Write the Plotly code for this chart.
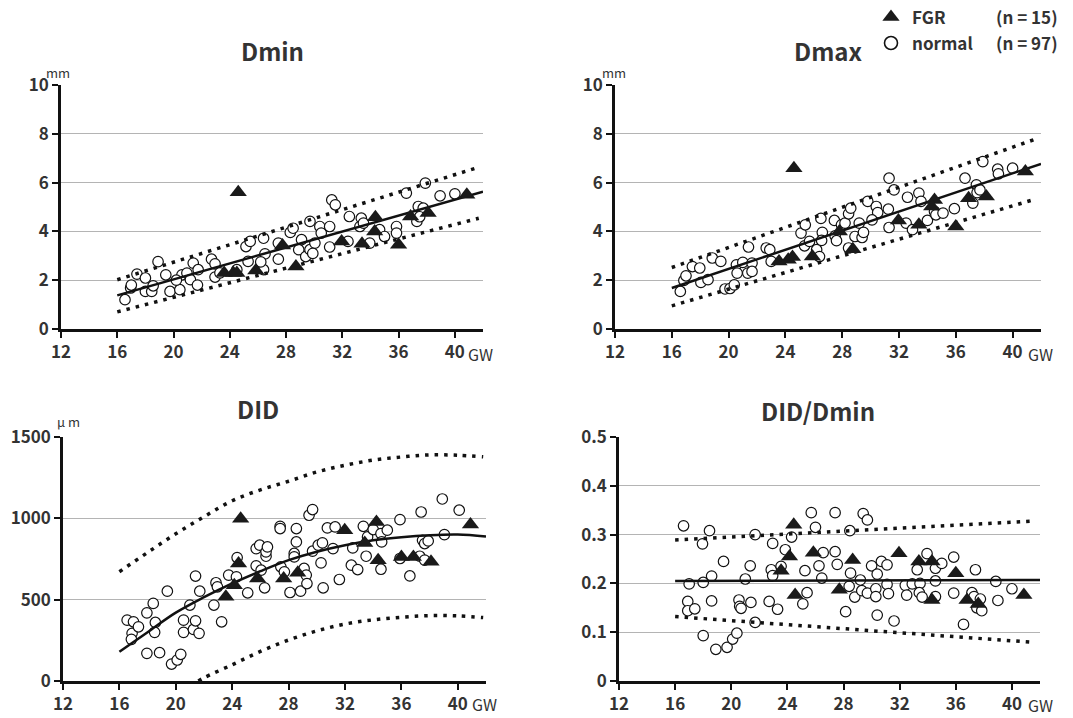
import plotly.graph_objects as go

# ---------------- data ----------------
# Dmin (mm)
dmin_n_x = [16.55, 16.95, 17.0, 17.4, 18.0, 18.0, 18.45, 18.55, 18.9, 19.45, 19.75, 20.45, 20.6, 20.95, 21.2,
            21.4, 21.7, 21.75, 22.7, 22.95, 22.95, 24.5, 25.15, 25.45, 25.3, 26.4, 26.4, 26.5, 27.45, 27.45,
            28.3, 28.5, 28.9, 29.1, 29.4, 29.7, 29.7, 30.05, 30.4, 30.5, 31.1, 31.1, 31.25, 31.5, 32.5, 32.4,
            33.25, 33.35, 33.5, 33.95, 34.65, 35.0, 35.85, 35.85, 36.55, 37.3, 37.4, 37.75, 37.9, 38.95, 40.0,
            37.5, 29.9, 26.2, 23.3, 20.2]
dmin_n_y = [1.20, 1.68, 1.80, 2.25, 2.09, 1.54, 1.54, 1.77, 2.76, 2.22, 1.54, 1.61, 2.22, 2.29, 2.02,
            2.70, 1.80, 2.43, 2.86, 2.67, 2.13, 2.43, 3.38, 3.59, 2.77, 3.72, 2.43, 3.08, 2.86, 3.52,
            3.96, 4.13, 3.25, 3.66, 2.97, 4.41, 3.25, 3.52, 4.20, 3.93, 4.20, 3.36, 5.29, 5.09, 4.61, 3.59,
            4.20, 4.54, 4.34, 3.52, 4.07, 3.79, 4.20, 3.93, 5.57, 4.41, 5.02, 4.95, 5.98, 5.46, 5.54,
            4.60, 3.10, 2.75, 2.30, 2.00]
dmin_f_x = [23.6, 24.25, 24.5, 24.6, 25.85, 27.75, 28.7, 31.95, 33.4, 34.35, 34.3, 36.0, 36.85, 38.1, 40.85]
dmin_f_y = [2.29, 2.29, 2.29, 5.60, 2.40, 3.42, 2.56, 3.59, 3.49, 4.58, 4.00, 3.45, 4.61, 4.75, 5.50]
dmin_fit_x, dmin_fit_y = [16, 42], [1.38, 5.63]
dmin_up_x, dmin_up_y = [16, 41.7], [2.02, 6.63]
dmin_lo_x, dmin_lo_y = [16, 41.7], [0.70, 4.54]

# Dmax (mm)
dmax_n_x = [16.6, 16.85, 17.0, 17.45, 17.97, 18.05, 18.55, 18.85, 19.45, 19.75, 20.1, 20.4, 20.55, 20.6, 21.0,
            21.35, 21.4, 21.65, 21.65, 22.65, 22.9, 23.0, 25.1, 25.4, 25.35, 25.7, 26.2, 26.4, 26.5, 26.6,
            26.55, 27.45, 27.5, 27.6, 27.95, 28.2, 28.45, 28.6, 28.45, 28.9, 29.2, 29.4, 29.5, 29.8, 30.4,
            30.5, 30.1, 31.3, 31.25, 31.3, 31.65, 32.5, 32.6, 32.95, 33.4, 33.55, 34.0, 34.5, 34.6, 35.1,
            35.9, 36.65, 37.2, 37.45, 37.5, 37.7, 37.9, 38.95, 39.0, 40.0]
dmax_n_y = [1.54, 1.99, 2.18, 2.56, 2.50, 1.91, 2.02, 2.91, 2.77, 1.64, 1.66, 1.81, 2.63, 2.29, 2.73,
            2.29, 3.36, 2.70, 2.36, 3.32, 3.25, 2.77, 3.93, 4.27, 3.41, 3.59, 3.25, 2.97, 4.53, 3.96,
            3.63, 4.45, 3.82, 3.62, 4.27, 4.34, 4.72, 4.95, 3.32, 3.79, 4.34, 3.75, 3.96, 5.23, 5.02,
            4.77, 4.47, 6.18, 4.91, 4.16, 5.70, 4.34, 5.40, 4.07, 5.57, 5.23, 4.45, 4.82, 4.68, 4.75,
            4.93, 6.18, 5.16, 5.91, 5.59, 5.70, 6.86, 6.55, 6.36, 6.59]
dmax_f_x = [23.55, 24.2, 24.5, 24.6, 25.9, 27.8, 28.75, 31.96, 33.4, 34.5, 34.3, 36.0, 36.9, 38.15, 40.9]
dmax_f_y = [2.77, 2.84, 2.95, 6.59, 2.97, 4.00, 3.27, 4.45, 4.27, 5.29, 5.02, 4.20, 5.36, 5.43, 6.45]
dmax_fit_x, dmax_fit_y = [16, 42], [1.68, 6.77]
dmax_up_x, dmax_up_y = [16, 41.6], [2.52, 7.78]
dmax_lo_x, dmax_lo_y = [16, 41.6], [0.95, 5.32]

# DID (um)
did_n_x = [16.55, 16.9, 16.85, 17.0, 17.35, 17.95, 18.4, 18.55, 18.5, 17.95, 18.85, 19.4, 19.7, 20.1, 20.35,
           20.55, 20.55, 21.0, 21.25, 21.4, 21.4, 21.65, 21.7, 22.7, 22.85, 22.95, 23.25, 23.75, 24.35, 24.3,
           25.1, 25.7, 25.7, 25.95, 26.4, 26.4, 26.5, 26.3, 26.05, 27.4, 27.4, 27.45, 27.7, 28.1, 28.55,
           28.55, 28.4, 28.4, 28.85, 29.1, 29.25, 29.3, 29.45, 29.7, 29.7, 30.1, 30.3, 30.4, 30.45, 30.75,
           31.15, 31.3, 31.6, 32.45, 32.55, 32.9, 33.3, 33.5, 33.6, 34.0, 34.55, 34.6, 34.55, 35.0, 35.9,
           35.9, 36.6, 37.3, 37.4, 37.5, 37.65, 37.9, 37.65, 38.9, 39.05, 40.1]
did_n_y = [374, 293, 256, 364, 333, 419, 477, 360, 299, 170, 174, 552, 104, 129, 164,
           374, 299, 467, 317, 370, 645, 293, 552, 467, 604, 579, 364, 651, 759, 640,
           542, 708, 814, 835, 767, 794, 824, 573, 681, 951, 937, 702, 671, 544, 937,
           855, 784, 763, 552, 692, 651, 599, 1019, 1054, 798, 835, 726, 849, 573, 941,
           814, 947, 624, 712, 818, 685, 951, 767, 886, 931, 906, 855, 687, 927, 992,
           753, 646, 767, 1039, 865, 845, 861, 743, 1119, 900, 1050]
did_f_x = [23.55, 24.15, 24.45, 24.6, 25.8, 27.65, 28.65, 31.98, 33.4, 34.23, 34.35, 36.0, 36.85, 38.1, 40.9]
did_f_y = [518, 589, 722, 998, 630, 630, 665, 927, 849, 978, 743, 763, 763, 733, 962]
did_fit_x = [16, 18, 20, 22, 24, 26, 28, 30, 32, 34, 36, 38, 40, 42]
did_fit_y = [180, 300, 420, 515, 600, 675, 743, 795, 835, 865, 884, 896, 900, 888]
did_up_x = [16, 18, 20, 22, 24, 26, 28, 30, 32, 34, 36, 38, 40, 41.8]
did_up_y = [672, 790, 905, 1010, 1108, 1175, 1228, 1285, 1326, 1358, 1377, 1390, 1388, 1378]
did_lo_x = [21.6, 22, 24, 26, 28, 30, 32, 34, 36, 38, 40, 41.8]
did_lo_y = [0, 20, 100, 182, 252, 308, 350, 376, 392, 402, 400, 390]

# DID/Dmin
ratio_n_x = [16.6, 16.9, 16.9, 17.0, 17.4, 17.95, 18.0, 18.0, 18.45, 18.6, 18.6, 18.9, 19.45, 19.7, 20.1,
             20.4, 20.55, 20.6, 20.7, 21.0, 21.35, 21.4, 21.7, 21.7, 22.7, 22.85, 22.95, 22.95, 23.3, 23.55,
             23.85, 24.3, 25.1, 25.25, 25.4, 25.7, 26.0, 26.25, 26.45, 26.55, 27.4, 27.4, 27.55, 28.15, 28.45,
             28.5, 28.4, 28.8, 29.2, 29.3, 29.4, 29.7, 29.7, 30.0, 30.3, 30.3, 30.4, 30.4, 30.7, 31.1,
             31.1, 31.2, 31.6, 32.4, 32.5, 32.9, 33.25, 33.45, 33.4, 33.6, 33.95, 34.55, 34.55, 34.55, 35.0,
             35.85, 35.85, 36.55, 37.15, 37.3, 37.4, 37.5, 37.75, 37.85, 38.85, 39.0, 40.0]
ratio_n_y = [0.318, 0.163, 0.144, 0.199, 0.148, 0.281, 0.202, 0.093, 0.308, 0.215, 0.164, 0.065, 0.245, 0.069, 0.086,
             0.098, 0.166, 0.153, 0.149, 0.209, 0.236, 0.161, 0.120, 0.300, 0.163, 0.228, 0.282, 0.216, 0.147, 0.235,
             0.269, 0.295, 0.158, 0.226, 0.181, 0.345, 0.315, 0.236, 0.211, 0.263, 0.265, 0.345, 0.239, 0.142, 0.308,
             0.221, 0.194, 0.172, 0.207, 0.185, 0.343, 0.330, 0.180, 0.236, 0.189, 0.173, 0.219, 0.135, 0.245, 0.238,
             0.198, 0.179, 0.123, 0.196, 0.176, 0.199, 0.228, 0.200, 0.181, 0.172, 0.261, 0.231, 0.205, 0.173, 0.241,
             0.254, 0.180, 0.116, 0.181, 0.173, 0.228, 0.150, 0.168, 0.144, 0.204, 0.165, 0.189]
ratio_f_x = [23.55, 24.15, 24.45, 24.55, 25.85, 27.7, 28.65, 31.95, 33.37, 34.3, 34.3, 36.0, 36.8, 37.6, 40.85]
ratio_f_y = [0.226, 0.255, 0.320, 0.176, 0.263, 0.187, 0.248, 0.262, 0.245, 0.245, 0.166, 0.221, 0.166, 0.158, 0.176]
ratio_fit_x, ratio_fit_y = [16, 42], [0.205, 0.207]
ratio_up_x, ratio_up_y = [16, 41.65], [0.289, 0.328]
ratio_lo_x, ratio_lo_y = [16, 41.65], [0.132, 0.079]

x_ticks = [12, 16, 20, 24, 28, 32, 36, 40]
titles = ["Dmin", "Dmax", "DID", "DID/Dmin"]

# ---------------- figure ----------------
W, H = 1073, 718
def fx(p): return p / W
def fy(p): return 1 - p / H

FONT = "Noto Sans CJK JP"
TXT = "#333333"

fig = go.Figure()

panels = [
    dict(n=(dmin_n_x, dmin_n_y), f=(dmin_f_x, dmin_f_y), fit=(dmin_fit_x, dmin_fit_y),
         up=(dmin_up_x, dmin_up_y), lo=(dmin_lo_x, dmin_lo_y), spline=False),
    dict(n=(dmax_n_x, dmax_n_y), f=(dmax_f_x, dmax_f_y), fit=(dmax_fit_x, dmax_fit_y),
         up=(dmax_up_x, dmax_up_y), lo=(dmax_lo_x, dmax_lo_y), spline=False),
    dict(n=(did_n_x, did_n_y), f=(did_f_x, did_f_y), fit=(did_fit_x, did_fit_y),
         up=(did_up_x, did_up_y), lo=(did_lo_x, did_lo_y), spline=True),
    dict(n=(ratio_n_x, ratio_n_y), f=(ratio_f_x, ratio_f_y), fit=(ratio_fit_x, ratio_fit_y),
         up=(ratio_up_x, ratio_up_y), lo=(ratio_lo_x, ratio_lo_y), spline=False),
]

DOT = "3.5px,6px"
for i, p in enumerate(panels):
    xa = "x" if i == 0 else f"x{i+1}"
    ya = "y" if i == 0 else f"y{i+1}"
    shape = "spline" if p["spline"] else "linear"
    fig.add_trace(go.Scatter(x=p["n"][0], y=p["n"][1], mode="markers", xaxis=xa, yaxis=ya,
                             marker=dict(symbol="circle", size=10.5, color="white",
                                         line=dict(color="#111111", width=1.2)),
                             showlegend=False, cliponaxis=False))
    for key in ("up", "lo"):
        fig.add_trace(go.Scatter(x=p[key][0], y=p[key][1], mode="lines", xaxis=xa, yaxis=ya,
                                 line=dict(color="#111111", width=3.5, dash=DOT, shape=shape),
                                 showlegend=False))
    fig.add_trace(go.Scatter(x=p["fit"][0], y=p["fit"][1], mode="lines", xaxis=xa, yaxis=ya,
                             line=dict(color="#111111", width=2.5, shape=shape), showlegend=False))
    fig.add_trace(go.Scatter(x=p["f"][0], y=p["f"][1], mode="markers", xaxis=xa, yaxis=ya,
                             marker=dict(symbol="triangle-up", size=15, color="#1a1a1a",
                                         line=dict(width=0)),
                             showlegend=False, cliponaxis=False))

# legend markers on a small hidden axis
fig.add_trace(go.Scatter(x=[891], y=[17], mode="markers", xaxis="x5", yaxis="y5",
                         marker=dict(symbol="triangle-up", size=15, color="#1a1a1a"), showlegend=False,
                         cliponaxis=False))
fig.add_trace(go.Scatter(x=[891], y=[43], mode="markers", xaxis="x5", yaxis="y5",
                         marker=dict(symbol="circle", size=13, color="white",
                                     line=dict(color="#111111", width=1.6)), showlegend=False,
                         cliponaxis=False))

xdoms = [(61, 483), (615, 1041), (63, 486), (619, 1040)]
ydoms = [(85, 329), (85, 329), (437, 681), (437, 681)]
yranges = [[0, 10], [0, 10], [0, 1500], [0, 0.5]]
ydticks = [2, 2, 500, 0.1]

tickfont = dict(family=FONT, size=17, color=TXT, weight="bold")
layout = {}
for i in range(4):
    sx = "xaxis" if i == 0 else f"xaxis{i+1}"
    sy = "yaxis" if i == 0 else f"yaxis{i+1}"
    xr = "x" if i == 0 else f"x{i+1}"
    yr = "y" if i == 0 else f"y{i+1}"
    layout[sx] = dict(domain=[fx(xdoms[i][0]), fx(xdoms[i][1])], anchor=yr, range=[12, 42],
                      tickmode="array", tickvals=x_ticks, ticktext=[str(v) for v in x_ticks],
                      ticks="outside", ticklen=6, tickwidth=2, tickcolor="#111111",
                      showline=True, linecolor="#111111", linewidth=2.5, automargin=False,
                      showgrid=False, zeroline=False, tickfont=tickfont, fixedrange=True)
    layout[sy] = dict(domain=[fy(ydoms[i][1]), fy(ydoms[i][0])], anchor=xr, range=yranges[i],
                      dtick=ydticks[i], tick0=0, automargin=False,
                      ticks="outside", ticklen=6, tickwidth=2, tickcolor="#111111",
                      showline=True, linecolor="#111111", linewidth=2.5,
                      showgrid=True, gridcolor="#b4b4b4", gridwidth=1,
                      zeroline=False, tickfont=tickfont, fixedrange=True)
layout["xaxis5"] = dict(domain=[fx(870), fx(910)], range=[870, 910], visible=False, anchor="y5",
                        fixedrange=True, automargin=False)
layout["yaxis5"] = dict(domain=[fy(60), 1], range=[60, 0], visible=False, anchor="x5",
                        fixedrange=True, automargin=False)

ann = []
title_pos = [(272, 50), (828, 50), (258, 409), (818, 410)]
for t, (x, y) in zip(titles, title_pos):
    ann.append(dict(text=t, x=fx(x), y=fy(y), xref="paper", yref="paper", showarrow=False,
                    font=dict(family=FONT, size=24, color=TXT, weight="bold"),
                    xanchor="center", yanchor="middle"))
# unit labels
for t, x, y in (("mm", 58, 72), ("mm", 614, 72), ("μ m", 68, 421)):
    ann.append(dict(text=t, x=fx(x), y=fy(y), xref="paper", yref="paper", showarrow=False,
                    font=dict(family=FONT, size=13, color=TXT), xanchor="center", yanchor="middle"))
for x, y in ((480, 354), (1040, 354), (484, 704), (1040, 705)):
    ann.append(dict(text="GW", x=fx(x), y=fy(y), xref="paper", yref="paper", showarrow=False,
                    font=dict(family=FONT, size=16, color=TXT), xanchor="center", yanchor="middle"))
# legend texts
for t, x, y in (("FGR", 910, 17), ("normal", 910, 43), ("(n = 15)", 994, 17), ("(n = 97)", 994, 43)):
    ann.append(dict(text=t, x=fx(x), y=fy(y), xref="paper", yref="paper", showarrow=False,
                    font=dict(family=FONT, size=17, color=TXT, weight="bold"),
                    xanchor="left", yanchor="middle"))

fig.update_layout(**layout)
fig.update_layout(width=W, height=H, margin=dict(l=0, r=0, t=0, b=0, autoexpand=False),
                  paper_bgcolor="white", plot_bgcolor="rgba(0,0,0,0)", annotations=ann, showlegend=False)

fig.write_html("out.html")
